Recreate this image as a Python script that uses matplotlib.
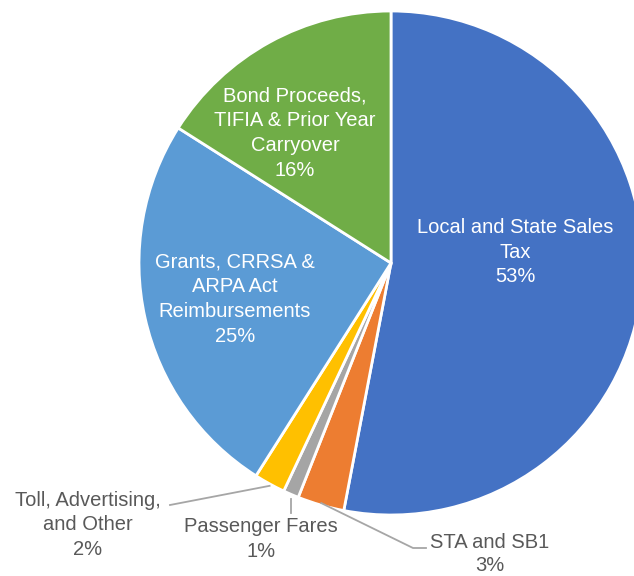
import matplotlib.pyplot as plt
import numpy as np

labels = ["Local and State Sales\nTax", "STA and SB1", "Passenger Fares",
          "Toll, Advertising,\nand Other", "Grants, CRRSA &\nARPA Act\nReimbursements",
          "Bond Proceeds,\nTIFIA & Prior Year\nCarryover"]
values = [53, 3, 1, 2, 25, 16]
colors = ["#4472C4", "#ED7D31", "#A5A5A5", "#FFC000", "#5B9BD5", "#70AD47"]

W, H = 634, 576
fig = plt.figure(figsize=(W / 100, H / 100), dpi=100)
ax = fig.add_axes([0, 0, 1, 1])

cx, cy, r = 391, H - 263, 252
ax.pie(values, colors=colors, startangle=90, counterclock=False,
       center=(cx, cy), radius=r, frame=True,
       wedgeprops=dict(edgecolor="white", linewidth=2))
ax.set_xlim(0, W)
ax.set_ylim(0, H)
ax.set_aspect("equal")
ax.axis("off")

font = "Liberation Sans"
fs = 14.5
ls = 1.38
pct = [f"{v}%" for v in values]

# inside labels (white)
inside = {0: (515, 252), 4: (235, 299), 5: (295, 133)}
for i, (x, y) in inside.items():
    ax.text(x, H - y, labels[i] + "\n" + pct[i], ha="center", va="center",
            color="white", fontsize=fs, family=font, linespacing=ls)

# outside labels with leader lines from wedge mid-angle
cum = np.cumsum(values) - np.array(values) / 2
ang = np.deg2rad(90 - cum / sum(values) * 360)
grey = "#595959"
lc = "#A6A6A6"

# STA and SB1
ex, ey = cx + (r - 2) * np.cos(ang[1]), cy + (r - 2) * np.sin(ang[1])
ax.plot([ex, 413, 426], [ey, H - 548, H - 548], color=lc, lw=1.3)
ax.text(490, H - 554, labels[1] + "\n" + pct[1], ha="center", va="center",
        color=grey, fontsize=fs, family=font, linespacing=1.3)

# Passenger Fares
ex, ey = cx + r * np.cos(ang[2]), cy + r * np.sin(ang[2])
ax.plot([ex, ex], [H - 499, H - 513], color=lc, lw=1.3)
ax.text(261, H - 539, labels[2] + "\n" + pct[2], ha="center", va="center",
        color=grey, fontsize=fs, family=font, linespacing=ls)

# Toll, Advertising, and Other
ex, ey = cx + r * np.cos(ang[3]), cy + r * np.sin(ang[3])
ax.plot([ex, 170], [ey - 2, H - 505], color=lc, lw=1.3)
ax.text(88, H - 525, labels[3] + "\n" + pct[3], ha="center", va="center",
        color=grey, fontsize=fs, family=font, linespacing=ls)

fig.savefig("out.png", dpi=100)
